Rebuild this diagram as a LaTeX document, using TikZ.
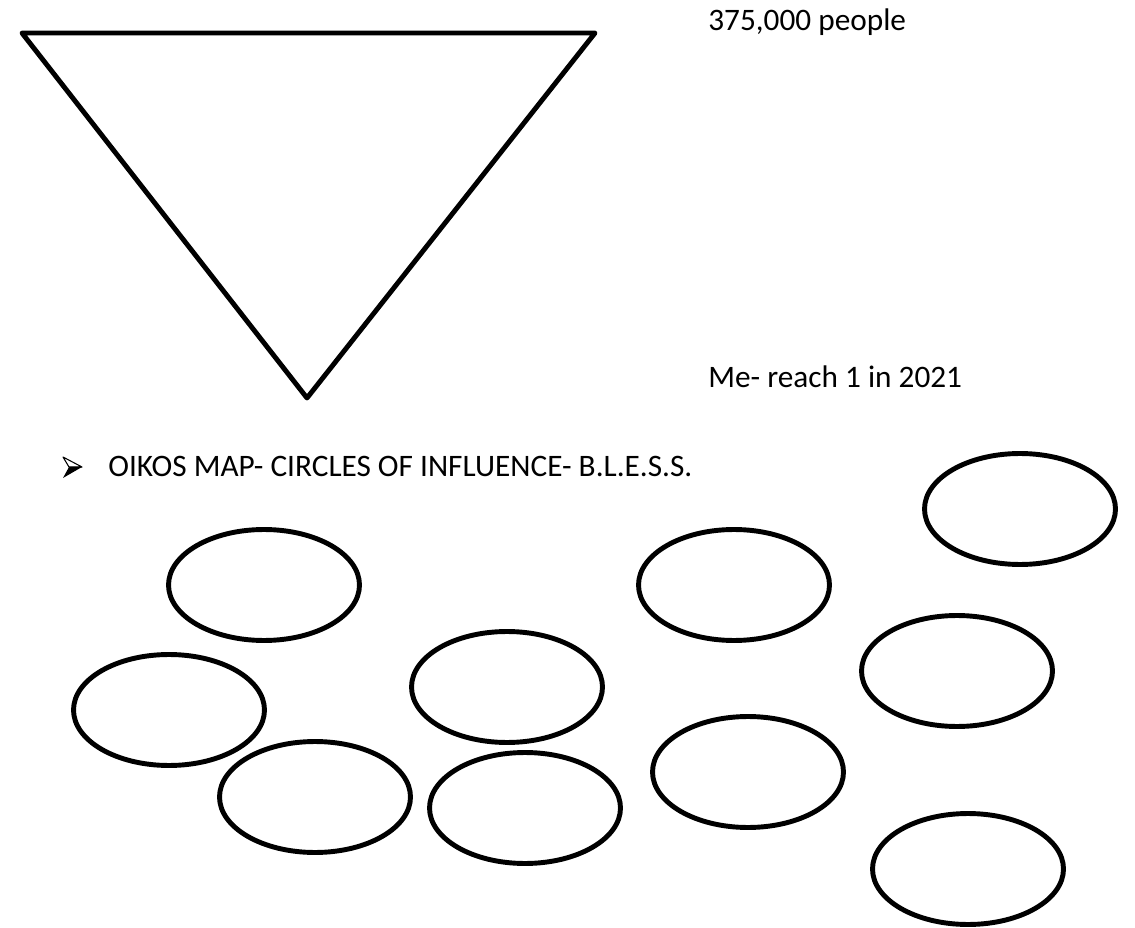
\documentclass[tikz,border=0pt]{standalone}
\usepackage{fontspec}
\setmainfont{Carlito}
\usetikzlibrary{positioning}
\usetikzlibrary{shapes.geometric}

\tikzset{
    oikos/.style={draw, ellipse, line width=2.8pt, minimum width=3.82cm, minimum height=2.22cm, inner sep=0pt},
    label text/.style={anchor=base west, inner sep=0pt, font=\fontsize{17.8}{21}\selectfont}
}

\begin{document}
\begin{tikzpicture}[x=0.02cm, y=-0.02cm]
    \useasboundingbox (0,0) rectangle (1135,928);

    % triangolo
    \coordinate (t1) at (22,33);
    \coordinate (t2) at (595,33);
    \coordinate (t3) at (307,398);
    \draw[line width=2.8pt, line join=round] (t1) -- (t2) -- (t3) -- cycle;

    \node[label text] (people) at (708,31) {375,000 people};
    \node[label text] (me) at (708,388) {Me- reach 1 in 2021};

    % punto elenco
    \coordinate (b1) at (63,457);
    \coordinate (b2) at (82,467);
    \coordinate (b3) at (63,478);
    \coordinate (b4) at (69,467);
    \draw[line width=0.6pt, line join=round] (b1) -- (b2) -- (b4) -- cycle;
    \fill[line join=round] (b4) -- (b2) -- (b3) -- cycle;
    \node[label text] (map) at (108,477) {OIKOS MAP- CIRCLES OF INFLUENCE- B.L.E.S.S.};

    \node[oikos] (c1) at (264,585) {};
    \node[oikos] (c2) at (1020,509) {};
    \node[oikos] (c3) at (169,710) {};
    \node[oikos] (c4) at (968,869) {};
    \node[oikos] (c5) at (734,585) {};
    \node[oikos] (c6) at (507,687) {};
    \node[oikos] (c7) at (957,671) {};
    \node[oikos] (c8) at (315,797) {};
    \node[oikos] (c9) at (525,808) {};
    \node[oikos] (c10) at (748,772) {};

\end{tikzpicture}
\end{document}
